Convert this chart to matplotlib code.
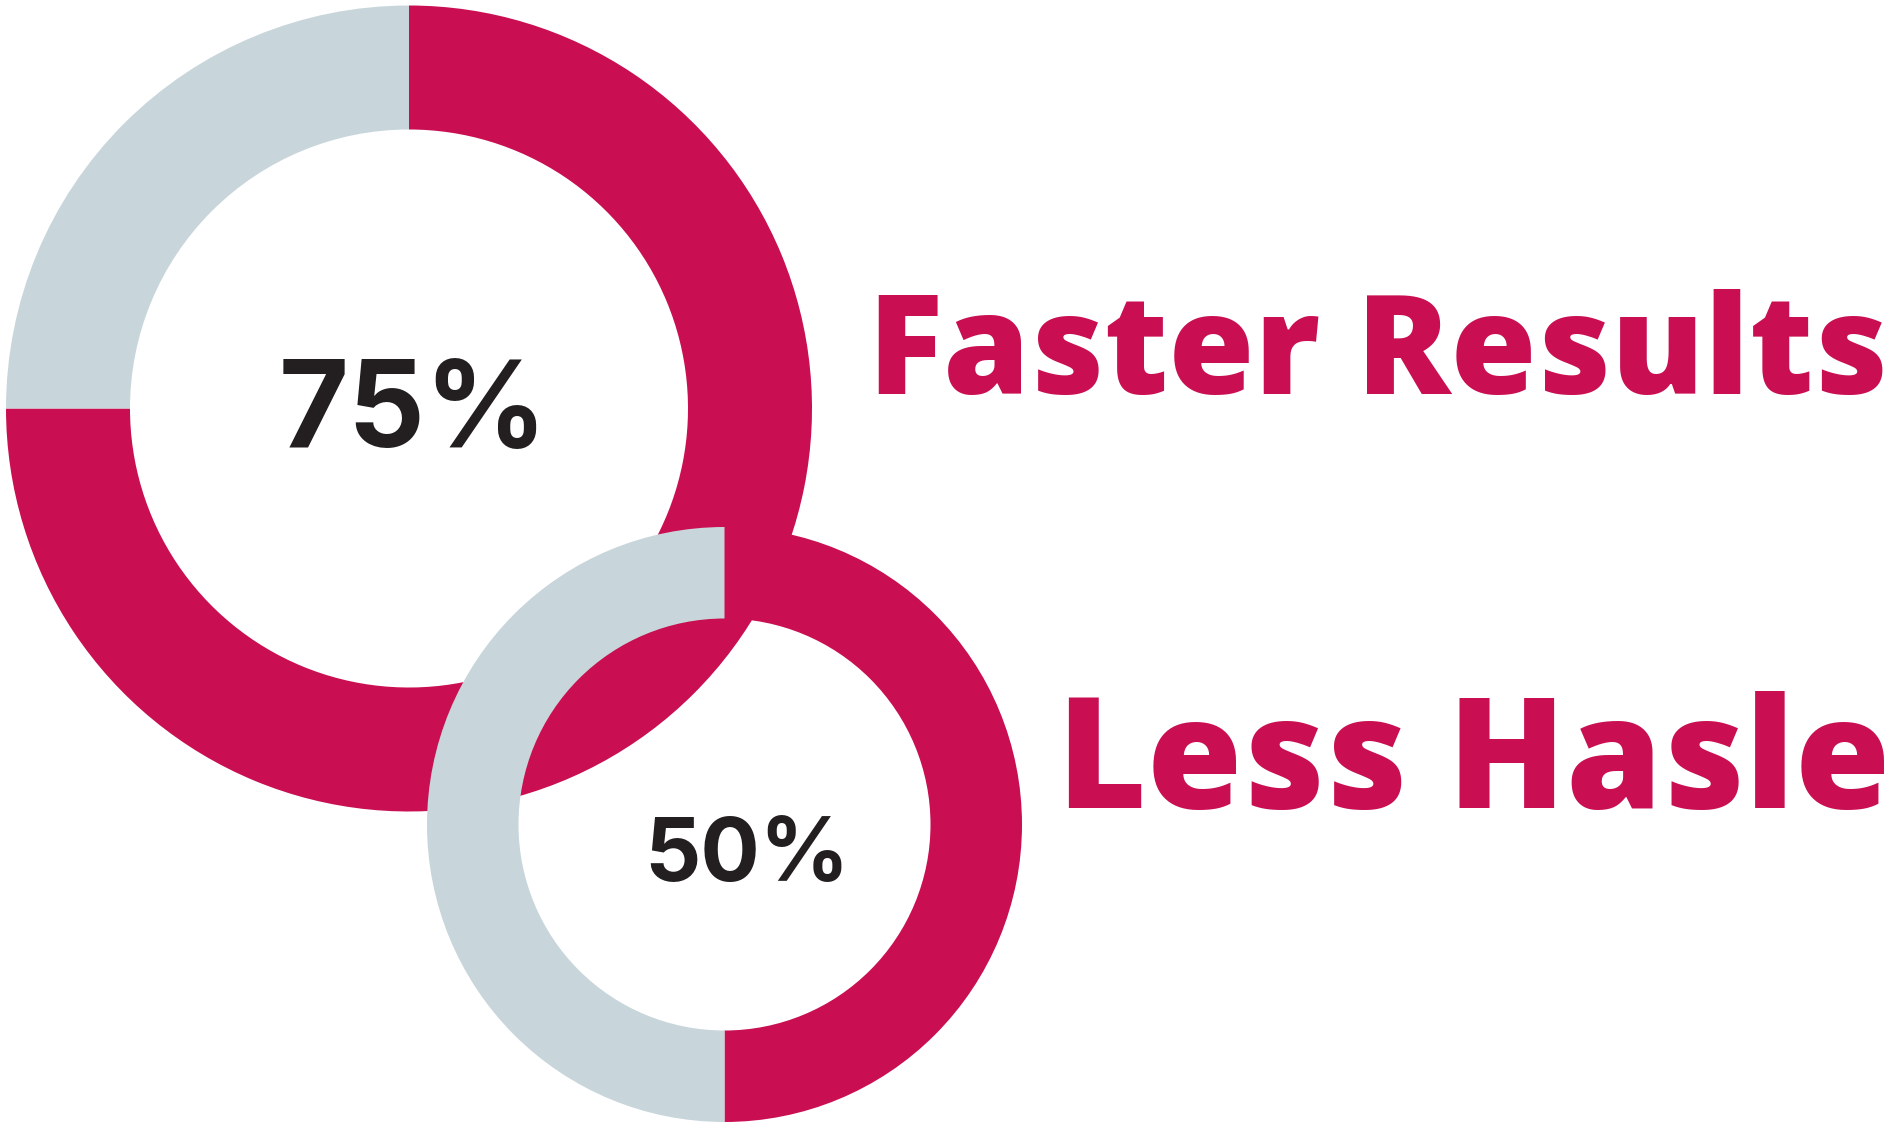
import matplotlib
matplotlib.use("Agg")
import matplotlib.pyplot as plt
from matplotlib.textpath import TextPath
from matplotlib.font_manager import FontProperties

W, H = 1896, 1125
RED = "#C90F52"
GRAY = "#C8D6DC"
DARK = "#231F20"

# data
big_values = [75, 25]
small_values = [50, 50]
big_label = "75%"
small_label = "50%"
big_title = "Faster Results"
small_title = "Less Hasle"

fig = plt.figure(figsize=(W / 100, H / 100), dpi=100)
ax = fig.add_axes([0, 0, 1, 1])

def Y(y):
    return H - y

# big donut
R1, r1 = 403, 279
ax.pie(big_values, colors=[RED, GRAY], radius=R1, center=(409, Y(408.5)),
       startangle=90, counterclock=False,
       wedgeprops=dict(width=R1 - r1, linewidth=0), frame=True)
# small donut
R2, r2 = 297.5, 206
ax.pie(small_values, colors=[RED, GRAY], radius=R2, center=(724.5, Y(824.5)),
       startangle=90, counterclock=False,
       wedgeprops=dict(width=R2 - r2, linewidth=0), frame=True)
ax.set_xlim(0, W)
ax.set_ylim(0, H)
ax.set_aspect("equal")
ax.axis("off")

def fit(txt, x0, x1, base, color, family, weight):
    fp = FontProperties(family=family, weight=weight)
    ext = TextPath((0, 0), txt, size=1, prop=fp).get_extents()
    px = (x1 - x0) / ext.width
    ax.text(x0 - ext.x0 * px, Y(base), txt, color=color,
            fontsize=px * 72 / 100, fontproperties=fp,
            ha="left", va="baseline")

fit(big_label, 283, 537, 447, DARK, "Inter", "bold")
fit(small_label, 650, 842, 881, DARK, "Inter", "bold")
fit(big_title, 879, 1883, 394, RED, "Open Sans", 800)
fit(small_title, 1069, 1884, 808, RED, "Open Sans", 800)

fig.savefig("out.png", dpi=100, facecolor="white")
